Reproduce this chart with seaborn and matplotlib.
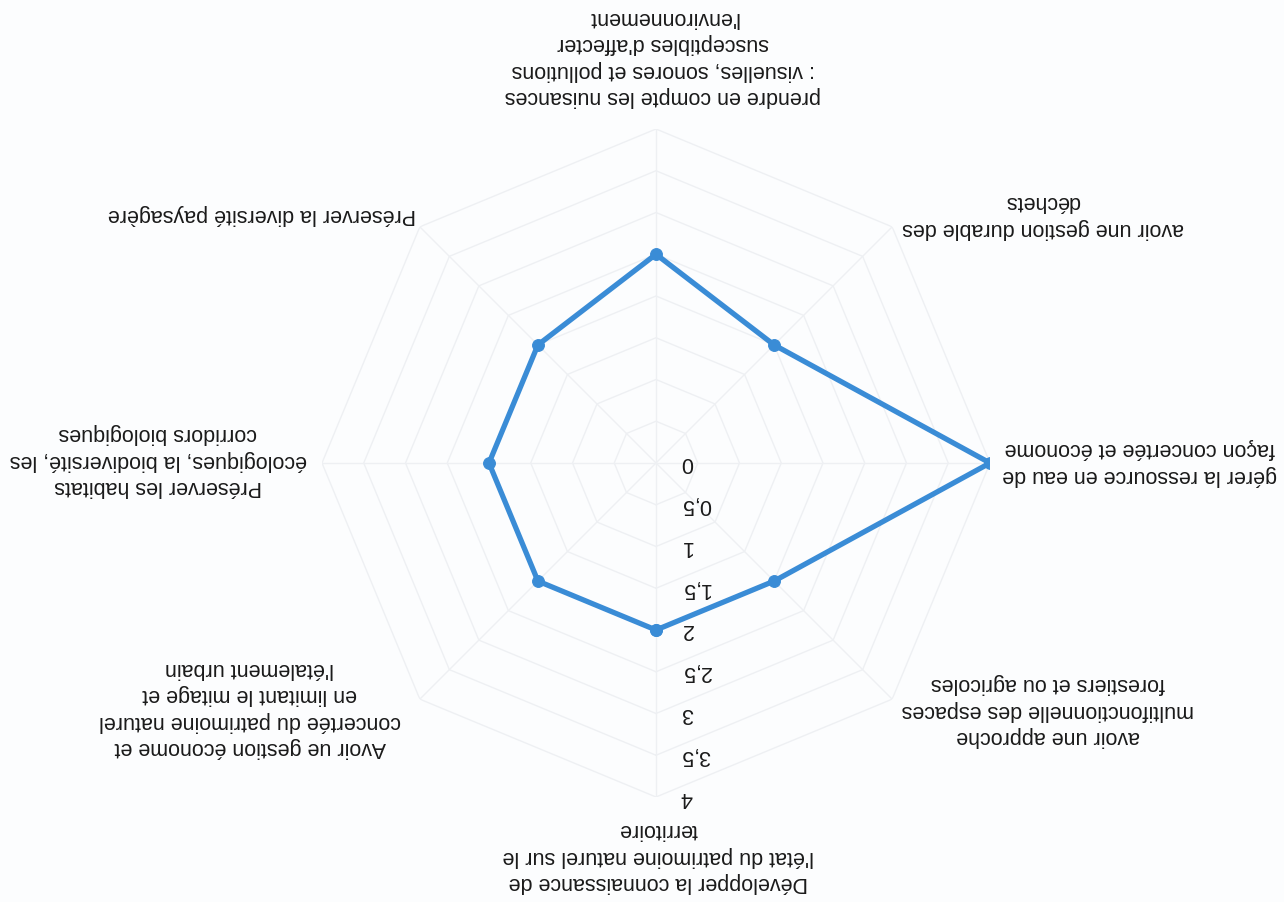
import numpy as np
import matplotlib
matplotlib.use("Agg")
import matplotlib.pyplot as plt
import seaborn as sns
import pandas as pd

categories = [
    "Développer la connaissance de\nl'état du patrimoine naturel sur le\nterritoire",
    "Avoir ue gestion économe et\nconcertée du patrimoine naturel\nen limitant le mitage et\nl'étalement urbain",
    "Préserver les habitats\nécologiques, la biodiversité, les\ncorridors biologiques",
    "Préserver la diversité paysagère",
    "prendre en compte les nuisances\n: visuelles, sonores et pollutions\nsusceptibles d'affecter\nl'environnement",
    "avoir une gestion durable des\ndéchets",
    "gérer la ressource en eau de\nfaçon concertée et économe",
    "avoir une approche\nmultifonctionnelle des espaces\nforestiers et ou agricoles",
]
values = [2, 2, 2, 2, 2.5, 2, 4, 2]
ticks = [0, 0.5, 1, 1.5, 2, 2.5, 3, 3.5, 4]
tick_labels = ["0", "0,5", "1", "1,5", "2", "2,5", "3", "3,5", "4"]

# label centres in pixels of the 1284x902 canvas (layout only)
label_px = [(658, 856), (250, 708), (158, 460), (262, 215),
            (663, 57), (1043, 215), (1140, 462), (1048, 710)]

sns.set_theme(style="white")
plt.rcParams['font.family'] = ['Liberation Sans', 'DejaVu Sans']

W, H = 1284, 902
fig = plt.figure(figsize=(W / 100, H / 100), dpi=100)
fig.patch.set_facecolor("#fcfdfe")

cx, cy, R = 656, 463, 334
ax = fig.add_axes([(cx - R) / W, (H - cy - R) / H, 2 * R / W, 2 * R / H],
                  projection="polar")
ax.set_facecolor("none")
ax.set_theta_zero_location("S")
ax.set_theta_direction(-1)
ax.set_ylim(0, ticks[-1])
ax.grid(False)
ax.spines["polar"].set_visible(False)
ax.set_xticks([])
ax.set_yticks([])

n = len(categories)
angles = np.arange(n) * 2 * np.pi / n
closed = np.append(angles, angles[0])

# faint octagonal gridlines and spokes
for t in ticks[1:]:
    ax.plot(closed, [t] * (n + 1), color="#eef0f3", lw=1.0, zorder=1)
for a in angles:
    ax.plot([a, a], [0, ticks[-1]], color="#eef0f3", lw=1.0, zorder=1)

df = pd.DataFrame({"theta": closed, "r": np.append(values, values[0])})
sns.lineplot(data=df, x="theta", y="r", ax=ax, sort=False, estimator=None,
             color="#3a8cd6", lw=3.8, marker="o", markersize=8.5,
             markeredgecolor="#3a8cd6", zorder=3)
ax.set_xlabel("")
ax.set_ylabel("")

# radial scale labels (upside down)
for t, lab in zip(ticks, tick_labels):
    ax.annotate(lab, xy=(0, t), xytext=(25, 0), textcoords="offset pixels",
                rotation=180, ha="left", va="center", fontsize=15.5,
                color="#1a1a1a", annotation_clip=False)

# category labels (upside down)
for lab, (px, py) in zip(categories, label_px):
    fig.text(px / W, 1 - py / H, lab, rotation=180, ha="center", va="center",
             multialignment="center", fontsize=15.5, linespacing=1.32,
             color="#1a1a1a")

fig.savefig("out.png", dpi=100, facecolor=fig.get_facecolor())
